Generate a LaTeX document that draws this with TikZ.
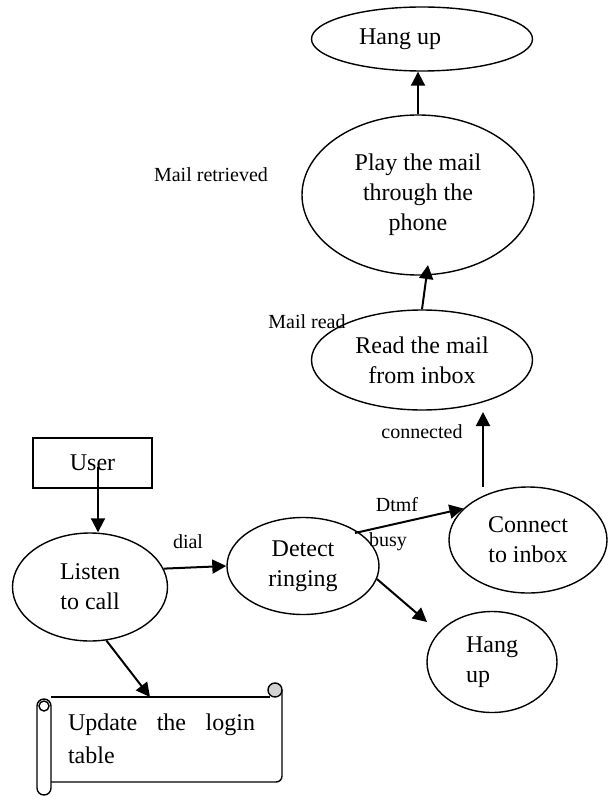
\documentclass[tikz,border=0pt]{standalone}
\usepackage{fontspec}
\setmainfont{Liberation Serif}
\usetikzlibrary{arrows.meta,shapes.geometric}

\begin{document}
\begin{tikzpicture}[
  x=0.5pt, y=-0.5pt,
  proc/.style={draw, ellipse, line width=0.7pt, inner sep=0pt, align=center, font=\fontsize{12}{15}\selectfont},
  entity/.style={draw, rectangle, line width=0.7pt, minimum width=59.5pt, minimum height=25pt, inner sep=0pt, font=\fontsize{12}{15}\selectfont},
  lbl/.style={inner sep=0pt, font=\fontsize{10}{12}\selectfont},
  roll/.style={line width=0.7pt},
  arr/.style={-{Triangle[length=7pt,width=7pt]}, line width=1pt}
]
\useasboundingbox (0,0) rectangle (609,796);
\node[proc, minimum width=110.5pt, minimum height=32pt] (hangtop) at (422,39) {Hang up\hspace*{22pt}};
\node[proc, minimum width=116pt, minimum height=80pt] (play) at (418,195) {Play the mail\\through the\\phone};
\node[proc, minimum width=110.5pt, minimum height=50pt] (read) at (422,360) {Read the mail\\from inbox};
\node[proc, minimum width=79pt, minimum height=53pt] (connect) at (528,540) {Connect\\to inbox};
\node[proc, minimum width=76pt, minimum height=48.5pt] (detect) at (303,566) {Detect\\ringing};
\node[proc, minimum width=65pt, minimum height=50.5pt, align=left] (hangb) at (492,662) {Hang\\up};
\node[proc, minimum width=77.5pt, minimum height=54pt] (listen) at (90,587) {Listen\\to call};
\node[entity] (user) at (92.5,463) {User};

\node[lbl] (lblretr) at (211,175) {Mail retrieved};
\node[lbl] (lblread) at (307,322) {Mail read};
\node[lbl] (lblconn) at (422,432) {connected};
\node[lbl] (lbldtmf) at (397,505) {Dtmf};
\node[lbl] (lblbusy) at (388,542) {busy};
\node[lbl] (lbldial) at (188,542) {dial};

\draw[roll] (51,697) -- (270,697);
\draw[roll, rounded corners=3pt] (282,690) -- (282,782) -- (51,782);
\filldraw[roll, fill=gray!35] (275,690) circle[radius=3.5pt];
\draw[roll, fill=white, rounded corners=3.5pt] (37,699) rectangle (51,795);
\draw[roll] (44,706) circle[radius=2.5pt];
\node[inner sep=0pt, text width=93.5pt, align=justify, font=\fontsize{12}{16.5}\selectfont, execute at begin node={\hyphenpenalty=10000}] (upd) at (161.5,738.5) {Update the login table};

\coordinate (userfrom) at (98,467);
\coordinate (dtmffrom) at (355,533);
\coordinate (busyto) at (427,622);
\coordinate (connfrom) at (483,487);
\coordinate (connto) at (483,412);
\coordinate (readto) at (428,265);
\coordinate (updtop) at (150,697);

\draw[arr] (userfrom) -- (userfrom |- listen.north);
\draw[arr] (listen.14) -- (detect.west);
\draw[arr] (dtmffrom) -- (connect.154);
\draw[arr] (detect.-10) -- (busyto);
\draw[arr] (connfrom) -- (connto);
\draw[arr] (read.north) -- (readto);
\draw[arr] (play.north) -- (play.north |- hangtop.south);
\draw[arr] (listen.-73) -- (updtop);
\end{tikzpicture}
\end{document}
